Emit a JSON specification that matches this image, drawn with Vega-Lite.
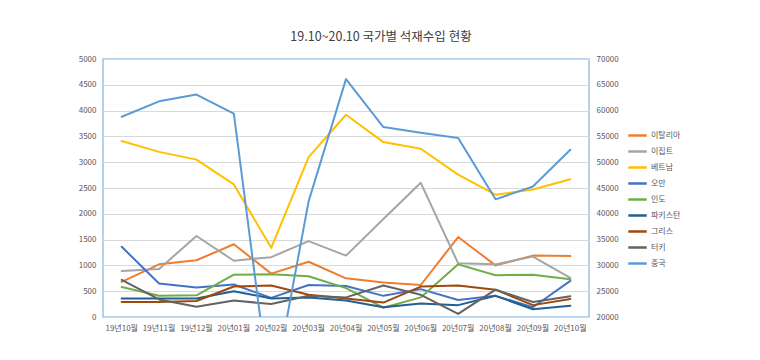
{
  "$schema": "https://vega.github.io/schema/vega-lite/v6.json",
  "width": 486,
  "height": 258,
  "autosize": {"type": "none"},
  "padding": {"left": 103, "top": 59, "right": 171, "bottom": 43},
  "background": "white",
  "title": {
    "text": "19.10~20.10 국가별 석재수입 현황",
    "font": "Noto Sans CJK KR",
    "fontSize": 12.5,
    "fontWeight": "normal",
    "color": "#404040",
    "anchor": "middle",
    "frame": "group",
    "dx": 35,
    "offset": 12
  },
  "datasets": {
    "imports": [
      {"month": "19년10월", "country": "이탈리아", "value": 680},
      {"month": "19년11월", "country": "이탈리아", "value": 1020},
      {"month": "19년12월", "country": "이탈리아", "value": 1100},
      {"month": "20년01월", "country": "이탈리아", "value": 1410},
      {"month": "20년02월", "country": "이탈리아", "value": 840},
      {"month": "20년03월", "country": "이탈리아", "value": 1070},
      {"month": "20년04월", "country": "이탈리아", "value": 750},
      {"month": "20년05월", "country": "이탈리아", "value": 670},
      {"month": "20년06월", "country": "이탈리아", "value": 620},
      {"month": "20년07월", "country": "이탈리아", "value": 1550},
      {"month": "20년08월", "country": "이탈리아", "value": 1000},
      {"month": "20년09월", "country": "이탈리아", "value": 1190},
      {"month": "20년10월", "country": "이탈리아", "value": 1180},

      {"month": "19년10월", "country": "이집트", "value": 890},
      {"month": "19년11월", "country": "이집트", "value": 930},
      {"month": "19년12월", "country": "이집트", "value": 1570},
      {"month": "20년01월", "country": "이집트", "value": 1090},
      {"month": "20년02월", "country": "이집트", "value": 1160},
      {"month": "20년03월", "country": "이집트", "value": 1470},
      {"month": "20년04월", "country": "이집트", "value": 1190},
      {"month": "20년05월", "country": "이집트", "value": 1900},
      {"month": "20년06월", "country": "이집트", "value": 2600},
      {"month": "20년07월", "country": "이집트", "value": 1040},
      {"month": "20년08월", "country": "이집트", "value": 1020},
      {"month": "20년09월", "country": "이집트", "value": 1170},
      {"month": "20년10월", "country": "이집트", "value": 760},

      {"month": "19년10월", "country": "베트남", "value": 3410},
      {"month": "19년11월", "country": "베트남", "value": 3200},
      {"month": "19년12월", "country": "베트남", "value": 3050},
      {"month": "20년01월", "country": "베트남", "value": 2570},
      {"month": "20년02월", "country": "베트남", "value": 1340},
      {"month": "20년03월", "country": "베트남", "value": 3100},
      {"month": "20년04월", "country": "베트남", "value": 3920},
      {"month": "20년05월", "country": "베트남", "value": 3390},
      {"month": "20년06월", "country": "베트남", "value": 3260},
      {"month": "20년07월", "country": "베트남", "value": 2760},
      {"month": "20년08월", "country": "베트남", "value": 2370},
      {"month": "20년09월", "country": "베트남", "value": 2470},
      {"month": "20년10월", "country": "베트남", "value": 2670},

      {"month": "19년10월", "country": "오만", "value": 1360},
      {"month": "19년11월", "country": "오만", "value": 650},
      {"month": "19년12월", "country": "오만", "value": 570},
      {"month": "20년01월", "country": "오만", "value": 630},
      {"month": "20년02월", "country": "오만", "value": 370},
      {"month": "20년03월", "country": "오만", "value": 620},
      {"month": "20년04월", "country": "오만", "value": 600},
      {"month": "20년05월", "country": "오만", "value": 410},
      {"month": "20년06월", "country": "오만", "value": 540},
      {"month": "20년07월", "country": "오만", "value": 330},
      {"month": "20년08월", "country": "오만", "value": 410},
      {"month": "20년09월", "country": "오만", "value": 190},
      {"month": "20년10월", "country": "오만", "value": 700},

      {"month": "19년10월", "country": "인도", "value": 580},
      {"month": "19년11월", "country": "인도", "value": 410},
      {"month": "19년12월", "country": "인도", "value": 420},
      {"month": "20년01월", "country": "인도", "value": 820},
      {"month": "20년02월", "country": "인도", "value": 830},
      {"month": "20년03월", "country": "인도", "value": 790},
      {"month": "20년04월", "country": "인도", "value": 560},
      {"month": "20년05월", "country": "인도", "value": 180},
      {"month": "20년06월", "country": "인도", "value": 380},
      {"month": "20년07월", "country": "인도", "value": 1020},
      {"month": "20년08월", "country": "인도", "value": 810},
      {"month": "20년09월", "country": "인도", "value": 820},
      {"month": "20년10월", "country": "인도", "value": 730},

      {"month": "19년10월", "country": "파키스탄", "value": 360},
      {"month": "19년11월", "country": "파키스탄", "value": 360},
      {"month": "19년12월", "country": "파키스탄", "value": 360},
      {"month": "20년01월", "country": "파키스탄", "value": 500},
      {"month": "20년02월", "country": "파키스탄", "value": 360},
      {"month": "20년03월", "country": "파키스탄", "value": 380},
      {"month": "20년04월", "country": "파키스탄", "value": 320},
      {"month": "20년05월", "country": "파키스탄", "value": 190},
      {"month": "20년06월", "country": "파키스탄", "value": 260},
      {"month": "20년07월", "country": "파키스탄", "value": 230},
      {"month": "20년08월", "country": "파키스탄", "value": 410},
      {"month": "20년09월", "country": "파키스탄", "value": 150},
      {"month": "20년10월", "country": "파키스탄", "value": 220},

      {"month": "19년10월", "country": "그리스", "value": 290},
      {"month": "19년11월", "country": "그리스", "value": 290},
      {"month": "19년12월", "country": "그리스", "value": 310},
      {"month": "20년01월", "country": "그리스", "value": 590},
      {"month": "20년02월", "country": "그리스", "value": 610},
      {"month": "20년03월", "country": "그리스", "value": 430},
      {"month": "20년04월", "country": "그리스", "value": 360},
      {"month": "20년05월", "country": "그리스", "value": 280},
      {"month": "20년06월", "country": "그리스", "value": 590},
      {"month": "20년07월", "country": "그리스", "value": 610},
      {"month": "20년08월", "country": "그리스", "value": 530},
      {"month": "20년09월", "country": "그리스", "value": 230},
      {"month": "20년10월", "country": "그리스", "value": 350},

      {"month": "19년10월", "country": "터키", "value": 720},
      {"month": "19년11월", "country": "터키", "value": 340},
      {"month": "19년12월", "country": "터키", "value": 200},
      {"month": "20년01월", "country": "터키", "value": 320},
      {"month": "20년02월", "country": "터키", "value": 250},
      {"month": "20년03월", "country": "터키", "value": 410},
      {"month": "20년04월", "country": "터키", "value": 380},
      {"month": "20년05월", "country": "터키", "value": 610},
      {"month": "20년06월", "country": "터키", "value": 430},
      {"month": "20년07월", "country": "터키", "value": 60},
      {"month": "20년08월", "country": "터키", "value": 530},
      {"month": "20년09월", "country": "터키", "value": 290},
      {"month": "20년10월", "country": "터키", "value": 400}
    ],
    "china": [
      {"month": "19년10월", "country": "중국", "value": 58800},
      {"month": "19년11월", "country": "중국", "value": 61800},
      {"month": "19년12월", "country": "중국", "value": 63100},
      {"month": "20년01월", "country": "중국", "value": 59400},
      {"month": "20년02월", "country": "중국", "value": 3500},
      {"month": "20년03월", "country": "중국", "value": 42400},
      {"month": "20년04월", "country": "중국", "value": 66100},
      {"month": "20년05월", "country": "중국", "value": 56800},
      {"month": "20년06월", "country": "중국", "value": 55700},
      {"month": "20년07월", "country": "중국", "value": 54700},
      {"month": "20년08월", "country": "중국", "value": 42800},
      {"month": "20년09월", "country": "중국", "value": 45300},
      {"month": "20년10월", "country": "중국", "value": 52400}
    ]
  },
  "encoding": {
    "x": {
      "field": "month",
      "type": "nominal",
      "sort": null,
      "scale": {"type": "band", "paddingInner": 0, "paddingOuter": 0},
      "axis": {
        "title": null,
        "labelAngle": 0,
        "labelFont": "Noto Sans CJK KR",
        "labelFontSize": 8,
        "labelColor": "#595959",
        "ticks": false,
        "domain": false,
        "grid": false,
        "labelPadding": 7
      }
    },
    "color": {
      "field": "country",
      "type": "nominal",
      "scale": {
        "domain": ["이탈리아", "이집트", "베트남", "오만", "인도", "파키스탄", "그리스", "터키", "중국"],
        "range": ["#ED7D31", "#A5A5A5", "#FFC000", "#4472C4", "#70AD47", "#255E91", "#9E480E", "#636363", "#5B9BD5"]
      },
      "legend": {
        "title": null,
        "orient": "none",
        "legendX": 524,
        "legendY": 66,
        "symbolType": "stroke",
        "symbolStrokeWidth": 2.5,
        "symbolSize": 340,
        "labelFont": "Noto Sans CJK KR",
        "labelFontSize": 8,
        "labelColor": "#595959",
        "labelOffset": 3,
        "rowPadding": -2.5,
        "padding": 0
      }
    }
  },
  "layer": [
    {
      "data": {"name": "imports"},
      "mark": {"type": "line", "strokeWidth": 2, "strokeJoin": "round", "strokeCap": "round"},
      "encoding": {
        "y": {
          "field": "value",
          "type": "quantitative",
          "scale": {"domain": [0, 5000], "nice": false},
          "axis": {
            "title": null,
            "format": "d",
            "values": [0, 500, 1000, 1500, 2000, 2500, 3000, 3500, 4000, 4500, 5000],
            "labelFont": "Noto Sans CJK KR",
            "labelFontSize": 8,
            "labelColor": "#595959",
            "ticks": false,
            "domain": false,
            "grid": true,
            "gridColor": "#D9D9D9",
            "gridWidth": 1,
            "labelPadding": 7
          }
        }
      }
    },
    {
      "data": {"name": "china"},
      "mark": {"type": "line", "strokeWidth": 2, "strokeJoin": "round", "strokeCap": "round", "clip": true},
      "encoding": {
        "y": {
          "field": "value",
          "type": "quantitative",
          "scale": {"domain": [20000, 70000], "nice": false},
          "axis": {
            "title": null,
            "orient": "right",
            "format": "d",
            "values": [20000, 25000, 30000, 35000, 40000, 45000, 50000, 55000, 60000, 65000, 70000],
            "labelFont": "Noto Sans CJK KR",
            "labelFontSize": 8,
            "labelColor": "#595959",
            "ticks": false,
            "domain": false,
            "grid": false,
            "labelPadding": 7
          }
        }
      }
    }
  ],
  "resolve": {"scale": {"y": "independent"}},
  "config": {
    "view": {"stroke": "#9DC3E6", "strokeWidth": 1.5},
    "font": "Noto Sans CJK KR"
  }
}
